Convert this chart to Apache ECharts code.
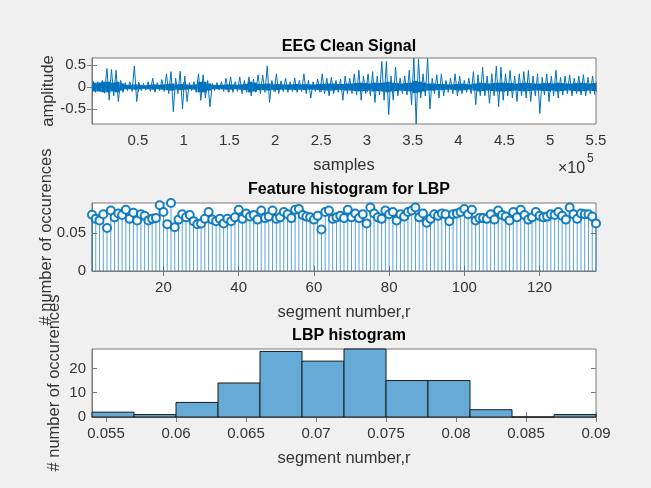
<!DOCTYPE html>
<html><head><meta charset="utf-8">
<script src="https://cdn.jsdelivr.net/npm/echarts@6/dist/echarts.min.js"></script>
<style>html,body{margin:0;padding:0;background:#f0f0f0}#c{width:651px;height:488px}</style>
</head><body><div id="c"></div>
<script>
// ---- EEG Clean Signal: envelope per 5000-sample bin ----
const eegBinSamples = 5000;
const eegHi = [0.14,0.12,0.15,0.42,0.40,0.38,0.15,0.10,0.12,0.48,
  0.10,0.08,0.12,0.20,0.10,0.17,0.30,0.35,0.20,0.36,
  0.25,0.10,0.12,0.30,0.28,0.15,0.08,0.10,0.12,0.20,
  0.23,0.12,0.23,0.15,0.23,0.18,0.28,0.27,0.48,0.15,
  0.30,0.14,0.20,0.12,0.20,0.15,0.30,0.15,0.12,0.18,
  0.30,0.20,0.22,0.15,0.18,0.25,0.20,0.30,0.38,0.25,
  0.30,0.35,0.25,0.58,0.58,0.25,0.45,0.20,0.25,0.38,
  0.66,0.64,0.30,0.65,0.20,0.28,0.30,0.15,0.20,0.30,
  0.25,0.15,0.20,0.35,0.28,0.45,0.25,0.30,0.48,0.45,
  0.30,0.38,0.25,0.30,0.35,0.38,0.25,0.30,0.22,0.30,
  0.25,0.38,0.22,0.25,0.28,0.20,0.25,0.28,0.22,0.25];
const eegLo = [-0.12,-0.10,-0.14,-0.30,-0.20,-0.33,-0.12,-0.08,-0.10,-0.33,
  -0.08,-0.07,-0.10,-0.12,-0.08,-0.10,-0.15,-0.56,-0.15,-0.50,
  -0.33,-0.08,-0.12,-0.30,-0.25,-0.45,-0.08,-0.07,-0.10,-0.12,
  -0.12,-0.10,-0.15,-0.12,-0.20,-0.12,-0.15,-0.12,-0.35,-0.10,
  -0.15,-0.10,-0.12,-0.10,-0.12,-0.10,-0.15,-0.25,-0.10,-0.12,
  -0.15,-0.20,-0.15,-0.12,-0.30,-0.15,-0.15,-0.18,-0.30,-0.15,
  -0.20,-0.35,-0.18,-0.30,-0.63,-0.30,-0.20,-0.15,-0.18,-0.40,
  -0.84,-0.25,-0.20,-0.50,-0.15,-0.25,-0.20,-0.12,-0.15,-0.20,
  -0.15,-0.12,-0.15,-0.40,-0.20,-0.20,-0.37,-0.20,-0.45,-0.30,
  -0.20,-0.25,-0.33,-0.20,-0.25,-0.33,-0.20,-0.60,-0.18,-0.33,
  -0.20,-0.25,-0.18,-0.15,-0.20,-0.15,-0.18,-0.20,-0.15,-0.18];
// half-width of the dense core band around zero, per bin
const eegCore = [0.10,0.10,0.12,0.12,0.10,0.12,0.08,
  0.05,0.05,0.06,0.05,0.04,0.05,
  0.06,0.05,0.06,0.07,0.08,0.06,0.07,0.06,0.05,0.06,
  0.12,0.12,0.08,
  0.05,0.05,0.05,0.06,0.06,0.05,0.06,0.07,
  0.12,0.10,
  0.07,0.07,0.08,0.06,0.07,0.06,0.06,0.06,0.07,0.06,0.07,0.06,0.06,0.07,0.07,
  0.08,0.08,0.07,0.07,0.08,0.08,0.09,0.10,0.09,0.08,0.10,0.09,0.10,0.12,0.10,0.09,0.08,0.09,0.10,
  0.14,0.12,0.10,
  0.08,0.08,0.07,0.07,0.06,0.06,0.07,0.08,0.07,0.06,0.08,0.10,0.09,0.08,0.09,0.10,0.10,0.09,0.09,0.08,
  0.09,0.10,0.09,0.08,0.08,0.09,0.09,0.08,0.10,0.09,0.08,0.08,0.09,0.10,0.09,0.08,0.09];
const eegXTicks = [50000,100000,150000,200000,250000,300000,350000,400000,450000,500000,550000];
const eegYTicks = [-0.5,0,0.5];

// ---- Feature histogram for LBP (stem values per segment) ----
const lbpValues = [0.0745,0.069,0.067,0.075,0.057,0.080,0.071,0.076,0.074,0.081,
  0.069,0.077,0.067,0.075,0.073,0.067,0.069,0.070,0.087,0.078,
  0.062,0.090,0.058,0.068,0.075,0.071,0.074,0.066,0.062,0.063,
  0.069,0.078,0.068,0.066,0.069,0.063,0.069,0.066,0.071,0.081,
  0.069,0.076,0.072,0.074,0.068,0.080,0.070,0.072,0.080,0.069,
  0.071,0.078,0.075,0.070,0.081,0.082,0.074,0.072,0.071,0.068,
  0.073,0.055,0.078,
  0.080,0.069,0.071,0.073,0.070,0.081,0.071,0.076,0.070,0.075,
  0.063,0.084,0.076,0.071,0.069,0.080,0.075,0.078,0.067,0.075,
  0.072,0.078,0.080,0.084,0.071,0.076,0.064,0.069,0.075,0.073,
  0.076,0.075,0.066,0.075,0.076,0.078,0.082,0.075,0.081,0.067,
  0.070,0.070,0.069,0.075,0.068,0.080,0.074,0.072,0.067,0.078,
  0.071,0.081,0.074,0.068,0.071,0.078,0.073,0.071,0.072,0.075,
  0.074,0.078,0.073,0.068,0.084,0.075,0.069,0.076,0.075,0.075,
  0.072,0.063];
const segXTicks = [20,40,60,80,100,120];
const segYTicks = [0,0.05];

// ---- LBP histogram ----
const histEdges = [0.054,0.057,0.060,0.063,0.066,0.069,0.072,0.075,0.078,0.081,0.084,0.087,0.090];
const histCounts = [2,1,6,14,27,23,28,15,15,3,0,1];
const histXTicks = [0.055,0.06,0.065,0.07,0.075,0.08,0.085,0.09];
const histYTicks = [0,10,20];

const FONT = 'Liberation Sans, Arial, sans-serif';
const AX = '#7a7a7a';
const TXT = '#333333';
const BLUE = '#0072BD';
const fmtNum = v => String(Number(v.toFixed(4)));

const grids = [
  {left:92, top:58, width:504, height:66},
  {left:92, top:203, width:504, height:68},
  {left:92, top:349, width:504, height:68}
].map(g => Object.assign({show:true, backgroundColor:'#fff', borderColor:AX, borderWidth:1, containLabel:false}, g));

function xAx(gi, min, max, ticks, fmt, name) {
  return [{
    type:'value', gridIndex:gi, min, max, position:'bottom',
    axisLine:{show:true, lineStyle:{color:AX}},
    axisTick:{show:true, inside:true, length:5, customValues:ticks, lineStyle:{color:AX}},
    axisLabel:{customValues:ticks, formatter:fmt, margin:9, color:TXT, fontSize:15, fontFamily:FONT},
    splitLine:{show:false},
    name, nameLocation:'middle', nameGap:33, nameMoveOverlap:false,
    nameTextStyle:{fontSize:16.5, color:TXT, fontFamily:FONT}
  },{
    type:'value', gridIndex:gi, min, max, position:'top',
    axisLine:{show:false},
    axisTick:{show:true, inside:true, length:5, customValues:ticks, lineStyle:{color:AX}},
    axisLabel:{show:false}, splitLine:{show:false}
  }];
}
function yAx(gi, min, max, ticks, fmt, name, gap) {
  return [{
    type:'value', gridIndex:gi, min, max, position:'left',
    axisLine:{show:true, lineStyle:{color:AX}},
    axisTick:{show:true, inside:true, length:5, customValues:ticks, lineStyle:{color:AX}},
    axisLabel:{customValues:ticks, formatter:fmt, margin:6, color:TXT, fontSize:15, fontFamily:FONT},
    splitLine:{show:false},
    name, nameLocation:'middle', nameGap:gap, nameRotate:90, nameMoveOverlap:false,
    nameTextStyle:{fontSize:16.5, color:TXT, fontFamily:FONT}
  },{
    type:'value', gridIndex:gi, min, max, position:'right',
    axisLine:{show:false},
    axisTick:{show:true, inside:true, length:5, customValues:ticks, lineStyle:{color:AX}},
    axisLabel:{show:false}, splitLine:{show:false}
  }];
}

const eegData = [];
for (let k = 0; k < eegHi.length; k++) {
  eegData.push([k*eegBinSamples + eegBinSamples*0.25, eegHi[k]]);
  eegData.push([k*eegBinSamples + eegBinSamples*0.75, eegLo[k]]);
}
const coreData = eegCore.map((c,k) => [k*eegBinSamples, (k+1)*eegBinSamples, c]);
const stemData = lbpValues.map((v,i) => [i+1, v]);
const histData = histCounts.map((c,i) => [histEdges[i], histEdges[i+1], c]);

const option = {
  backgroundColor:'#f0f0f0',
  animation:false,
  title:[
    {text:'EEG Clean Signal', left:344, top:34, textAlign:'center', textStyle:{fontSize:16, fontWeight:'bold', color:'#000', fontFamily:FONT}},
    {text:'Feature histogram for LBP', left:344, top:177, textAlign:'center', textStyle:{fontSize:16, fontWeight:'bold', color:'#000', fontFamily:FONT}},
    {text:'LBP histogram', left:344, top:323, textAlign:'center', textStyle:{fontSize:16, fontWeight:'bold', color:'#000', fontFamily:FONT}}
  ],
  grid:grids,
  xAxis:[].concat(
    xAx(0, 0, 550000, eegXTicks, v => String(Number((v/1e5).toFixed(2))), 'samples'),
    xAx(1, 1, 135, segXTicks, v => String(v), 'segment number,r'),
    xAx(2, 0.054, 0.09, histXTicks, fmtNum, 'segment number,r')
  ),
  yAxis:[].concat(
    yAx(0, -0.84, 0.66, eegYTicks, fmtNum, 'amplitude', 35),
    yAx(1, 0, 0.09, segYTicks, fmtNum, '# number of occurences', 37),
    yAx(2, 0, 28, histYTicks, v => String(v), '# number of occurences', 29)
  ),
  graphic:[
    {type:'text', left:558, top:161, style:{text:'\u00d710', fontSize:16, fill:TXT, fontFamily:FONT}},
    {type:'text', left:587, top:153, style:{text:'5', fontSize:12, fill:TXT, fontFamily:FONT}}
  ],
  series:[
    {type:'custom', xAxisIndex:0, yAxisIndex:0, data:coreData, encode:{x:[0,1], y:2},
     renderItem:(params, api) => {
       const p0 = api.coord([api.value(0), api.value(2)]);
       const p1 = api.coord([api.value(1), -api.value(2)]);
       return {type:'rect', shape:{x:p0[0], y:p0[1], width:p1[0]-p0[0], height:p1[1]-p0[1]},
         style:{fill:BLUE}};
     }},
    {type:'line', xAxisIndex:0, yAxisIndex:0, data:eegData, showSymbol:false, symbol:'none',
     lineStyle:{color:BLUE, width:1}, itemStyle:{color:BLUE}},
    {type:'custom', xAxisIndex:2, yAxisIndex:2, data:stemData, encode:{x:0, y:1},
     renderItem:(params, api) => {
       const x = api.value(0), v = api.value(1);
       const p0 = api.coord([x, 0]), p1 = api.coord([x, v]);
       return {type:'line', shape:{x1:p0[0], y1:p0[1], x2:p1[0], y2:p1[1]},
         style:{stroke:BLUE, lineWidth:1, opacity:0.65}};
     }},
    {type:'scatter', xAxisIndex:2, yAxisIndex:2, data:stemData, symbol:'emptyCircle', symbolSize:8,
     itemStyle:{color:BLUE, borderColor:BLUE, borderWidth:1, opacity:0.9}},
    {type:'custom', xAxisIndex:4, yAxisIndex:4, data:histData, encode:{x:[0,1], y:2},
     renderItem:(params, api) => {
       const p0 = api.coord([api.value(0), 0]);
       const p1 = api.coord([api.value(1), api.value(2)]);
       return {type:'rect', shape:{x:p0[0], y:p1[1], width:p1[0]-p0[0], height:p0[1]-p1[1]},
         style:{fill:'#66AAD7', stroke:'#1a1a1a', lineWidth:1}};
     }}
  ]
};
const chart = echarts.init(document.getElementById('c'), null, {renderer:'canvas'});
chart.setOption(option);
</script>
</body></html>
